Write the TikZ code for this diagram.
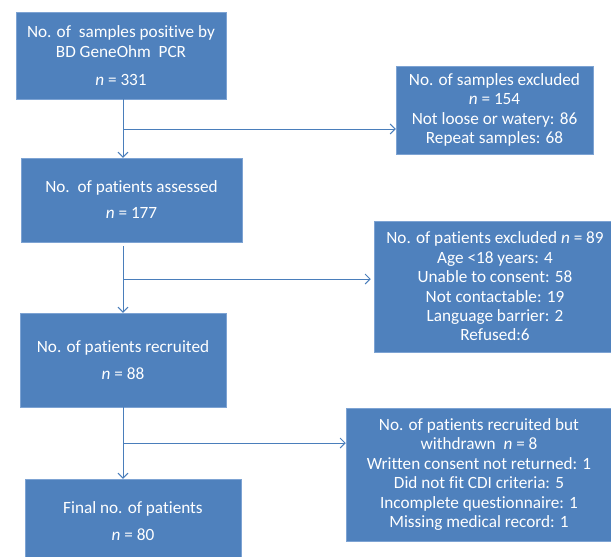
\documentclass[tikz,border=0pt]{standalone}
\usepackage{fontspec}
\setmainfont{Carlito}[Ligatures=NoCommon]
\usetikzlibrary{arrows.meta}
\definecolor{boxblue}{RGB}{79,129,189}
\definecolor{edgeblue}{RGB}{125,163,211}
\definecolor{lineblue}{RGB}{74,126,187}
\begin{document}
\begin{tikzpicture}[x=1pt,y=-1pt,
  box/.style={fill=boxblue,draw=edgeblue,line width=0.5pt,text=white,align=center,inner sep=0pt,
    font=\fontsize{17.2}{19.4}\selectfont},
  arr/.style={draw=lineblue,line width=0.9pt,-{Straight Barb[length=5pt,width=10pt]}}]
\useasboundingbox (0,0) rectangle (611,557);
\clip (0,0) rectangle (611,557);
\node[box,minimum width=210,minimum height=87] (samples) at (121,55.5)
  {No. of\ \ samples positive by\\BD GeneOhm\ \ PCR\\[8.6pt]\textit{n} = 331};
\node[box,minimum width=197,minimum height=88] (smpexcl) at (494.5,110)
  {No. of samples excluded\\\textit{n} = 154\\Not loose or watery: 86\\Repeat samples: 68};
\node[box,minimum width=221,minimum height=84] (assessed) at (131.5,200)
  {No.\ \ of patients assessed\\[6.6pt]\textit{n} = 177};
\node[box,minimum width=242,minimum height=131] (patexcl) at (495,286.5)
  {No. of patients excluded \textit{n} = 89\\Age <18 years: 4\\Unable to consent: 58\\Not contactable: 19\\Language barrier: 2\\Refused:6};
\node[box,minimum width=206,minimum height=94] (recruited) at (123,360)
  {No. of patients recruited\\[7.6pt]\textit{n} = 88};
\node[box,minimum width=266,minimum height=133] (withdrawn) at (479,474.5)
  {No. of patients recruited but\\withdrawn\ \ \textit{n} = 8\\Written consent not returned: 1\\Did not fit CDI criteria: 5\\Incomplete questionnaire: 1\\Missing medical record: 1};
\node[box,minimum width=216,minimum height=85] (final) at (133,521.5)
  {Final no. of patients\\[7.6pt]\textit{n} = 80};
\coordinate (j1) at (123,129);
\coordinate (j2) at (123,279);
\coordinate (j3) at (123,443);
\draw[arr] (samples.south -| j1) -- (assessed.north -| j1);
\draw[arr] (j1) -- (j1 -| smpexcl.west);
\draw[arr,shorten <=4pt] (assessed.south -| j2) -- (recruited.north -| j2);
\draw[arr,shorten >=3pt] (j2) -- (j2 -| patexcl.west);
\draw[arr] (recruited.south -| j3) -- (final.north -| j3);
\draw[arr] (j3) -- (j3 -| withdrawn.west);
\end{tikzpicture}
\end{document}
